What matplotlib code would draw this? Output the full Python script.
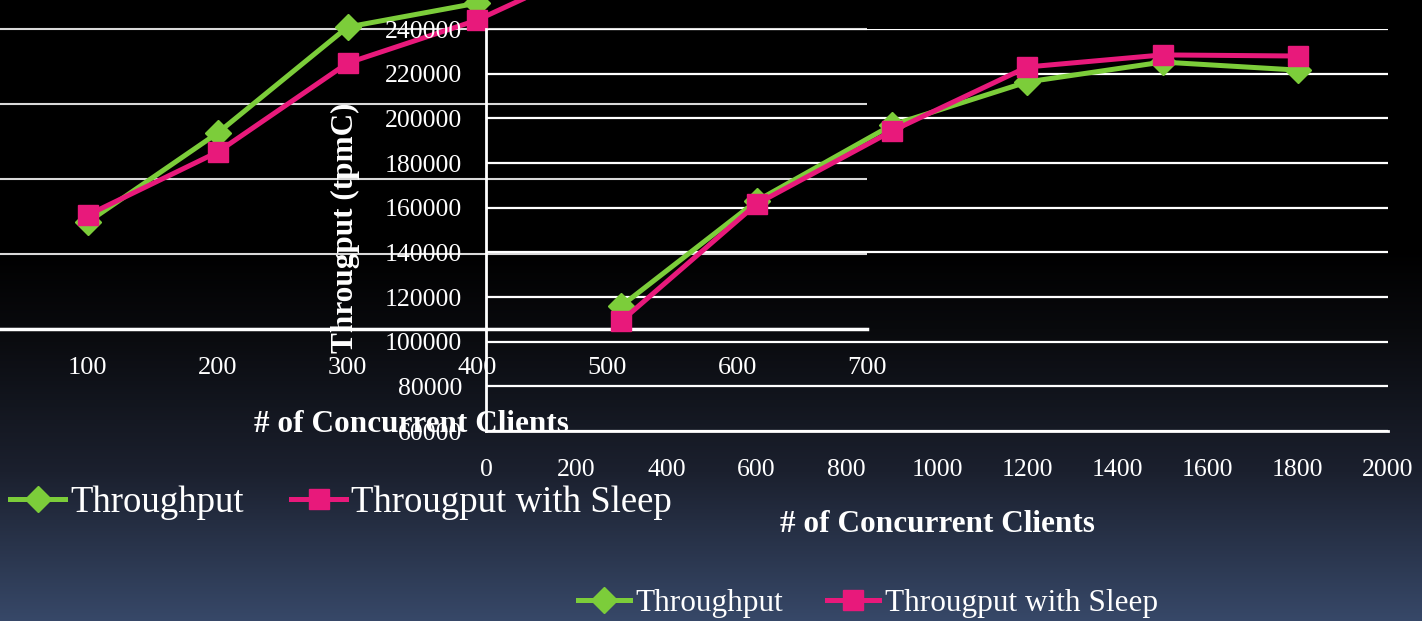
import numpy as np
import matplotlib.pyplot as plt

plt.rcParams['font.family'] = ['Liberation Serif', 'DejaVu Serif']

# data
clients_a = [100, 200, 300, 400, 500]
thru_a = [71300, 130700, 201300, 217300, 270000]
sleep_a = [76000, 118000, 177300, 206000, 246000]

clients_b = [300, 600, 900, 1200, 1500, 1800]
thru_b = [116000, 163000, 197000, 216300, 225200, 221600]
sleep_b = [109250, 161650, 194300, 223000, 228400, 227900]

xticks_a = [100, 200, 300, 400, 500, 600, 700]
xticks_b = list(range(0, 2001, 200))
yticks_b = list(range(60000, 240001, 20000))

GREEN = '#7ccd3a'
PINK = '#e8197b'

W, H = 1422, 621
fig = plt.figure(figsize=(W / 100, H / 100), dpi=100)

# background gradient
bg = fig.add_axes([0, 0, 1, 1], zorder=-10)
stops = [0.0, 0.40, 0.53, 0.76, 1.0]
cols = np.array([[0, 0, 0], [0, 0, 0], [9, 10, 13], [27, 32, 46], [55, 72, 104]]) / 255
t = np.linspace(0, 1, 600)
grad = np.stack([np.interp(t, stops, cols[:, i]) for i in range(3)], axis=1)
bg.imshow(grad[:, None, :], aspect='auto', extent=[0, 1, 1, 0])
bg.set_axis_off()

def px(x0, y_top, w, h):
    # pixel box -> figure fraction
    return [x0 / W, 1 - (y_top + h) / H, w / W, h / H]

################
# chart A (left, cut off)
axa = fig.add_axes(px(-42, -121, 909, 450))
axa.set_facecolor('none')
axa.set_xlim(0, 700)
axa.set_ylim(0, 300000)
axa.set_yticks(range(0, 300001, 50000))
axa.set_xticks(xticks_a)
axa.yaxis.grid(True, color='#d9d9d9', linewidth=1.5)
axa.set_axisbelow(True)
axa.tick_params(axis='x', length=0, pad=20, labelsize=19, labelcolor='white')
axa.tick_params(axis='y', length=0, labelleft=False)
for s in ['top', 'right', 'left']:
    axa.spines[s].set_visible(False)
axa.spines['bottom'].set_color('white')
axa.spines['bottom'].set_linewidth(2.5)
la1, = axa.plot(clients_a, thru_a, color=GREEN, linewidth=3.6, marker='D', markersize=13, label='Throughput')
la2, = axa.plot(clients_a, sleep_a, color=PINK, linewidth=3.6, marker='s', markersize=15, label='Througput with Sleep')
fig.text(411 / W, 1 - 425 / H, '# of Concurrent Clients', ha='center', va='center',
         fontsize=22.5, fontweight='bold', color='white')
fig.legend(handles=[la1, la2], loc='center left', bbox_to_anchor=(10 / W, 1 - 503 / H),
           ncol=2, frameon=False, fontsize=26.5, labelcolor='white', borderpad=0,
           borderaxespad=0, handlelength=1.5, handletextpad=0.14, columnspacing=1.28)

################
# chart B (right)
axb = fig.add_axes(px(486, 29, 902, 402))
axb.set_facecolor('none')
axb.set_xlim(0, 2000)
axb.set_ylim(60000, 240000)
axb.set_xticks(xticks_b)
axb.set_yticks(yticks_b)
axb.yaxis.grid(True, color='white', linewidth=1.6)
axb.set_axisbelow(True)
axb.tick_params(length=0, labelsize=18.5, labelcolor='white')
axb.tick_params(axis='x', pad=20)
axb.tick_params(axis='y', pad=17)
for s in ['top', 'right']:
    axb.spines[s].set_visible(False)
for s in ['left', 'bottom']:
    axb.spines[s].set_color('white')
    axb.spines[s].set_linewidth(2)
lb1, = axb.plot(clients_b, thru_b, color=GREEN, linewidth=3.6, marker='D', markersize=13, label='Throughput')
lb2, = axb.plot(clients_b, sleep_b, color=PINK, linewidth=3.6, marker='s', markersize=15, label='Througput with Sleep')
fig.text(937 / W, 1 - 524 / H, '# of Concurrent Clients', ha='center', va='center',
         fontsize=22.5, fontweight='bold', color='white')
fig.text(345 / W, 1 - 228 / H, 'Througput (tpmC)', ha='center', va='center', rotation=90,
         fontsize=22.5, fontweight='bold', color='white')
fig.legend(handles=[lb1, lb2], loc='center left', bbox_to_anchor=(578 / W, 1 - 603 / H),
           ncol=2, frameon=False, fontsize=22.5, labelcolor='white', borderpad=0,
           borderaxespad=0, handlelength=1.66, handletextpad=0.19, columnspacing=1.4)

fig.savefig('out.png', dpi=100)
